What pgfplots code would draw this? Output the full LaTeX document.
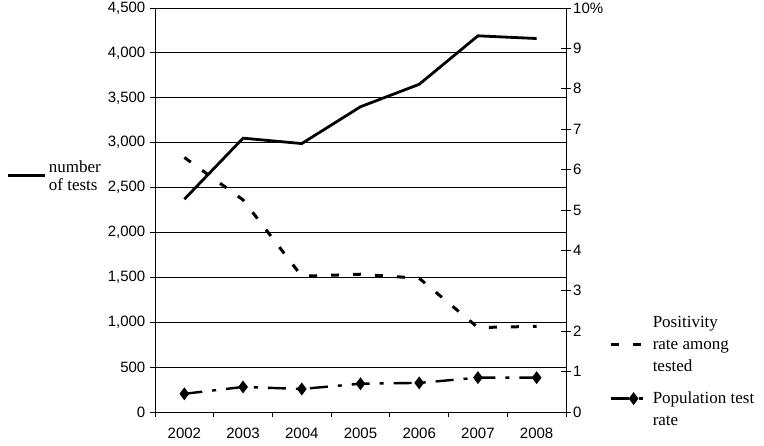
\documentclass[border=0pt]{standalone}
\usepackage{fontspec}
\setmainfont{Liberation Sans}
\newfontfamily\lserif{Liberation Serif}
\usepackage{pgfplots}
\pgfplotsset{compat=1.18}
\pgfplotsset{
  lgA/.style={legend image code/.code={\draw[##1] (0pt,8pt) -- (37pt,8pt);}},
  lgB/.style={legend image code/.code={\draw[##1] (0pt,0pt) -- (30pt,0pt);}},
  lgC/.style={legend image code/.code={\draw[mark repeat=2, mark phase=2, ##1] plot coordinates {(0pt,11pt) (23pt,11pt) (32pt,11pt)};}},
}
\newcommand\lst{\rule[-6pt]{0pt}{22pt}}
\begin{document}
\begin{tikzpicture}
\path[use as bounding box] (-155pt,-34pt) rectangle (609pt,412pt);
\begin{axis}[
  at={(0pt,0pt)}, anchor=south west,
  scale only axis, width=411pt, height=404pt,
  xmin=-0.5, xmax=6.5, ymin=0, ymax=4500,
  xtick={0,1,2,3,4,5,6},
  xticklabels={2002,2003,2004,2005,2006,2007,2008},
  minor xtick={-0.5,0.5,1.5,2.5,3.5,4.5,5.5,6.5},
  ytick={0,500,...,4500},
  scaled y ticks=false,
  /pgf/number format/.cd, 1000 sep={,}, assume math mode=true, /pgfplots/.cd,
  ymajorgrids, grid style={black, line width=0.8pt},
  axis line style={line width=0.8pt},
  tick align=outside, xtick pos=left, ytick pos=left,
  major tick length=5pt, minor tick length=5pt,
  tick style={black, line width=0.8pt},
  major x tick style={draw=none},
  ticklabel style={font=\fontsize{15}{18}\selectfont},
  yticklabel style={inner sep=0pt, xshift=-4.5pt},
  xticklabel style={inner sep=0pt, anchor=north, yshift=-11pt},
  legend style={draw=none, fill=none, at={(-0.370,0.6386)}, anchor=north west,
    font=\lserif\fontsize{17}{20}\selectfont, nodes={inner sep=0pt},
    row sep=0pt, column sep=3pt},
  legend cell align=left,
]
\addlegendimage{empty legend}
\addlegendentry{\lst number}
\addplot[black, line width=2.8pt, mark=none, lgA]
  coordinates {(0,2370) (1,3050) (2,2990) (3,3400) (4,3650) (5,4190) (6,4160)};
\addlegendentry{\lst of tests}
\end{axis}
\begin{axis}[
  at={(0pt,0pt)}, anchor=south west,
  scale only axis, width=411pt, height=404pt,
  xmin=-0.5, xmax=6.5, ymin=0, ymax=10,
  hide x axis, axis y line*=right,
  axis line style={line width=0.8pt},
  ytick={0,1,2,3,4,5,6,7,8,9,10},
  yticklabels={0,1,2,3,4,5,6,7,8,9,10\%},
  ytick align=center, major tick length=10pt,
  tick style={black, line width=0.8pt},
  ticklabel style={font=\fontsize{15}{18}\selectfont},
  yticklabel style={inner sep=0pt, xshift=2pt},
  legend style={draw=none, fill=none, at={(1.097,0.2426)}, anchor=north west,
    font=\lserif\fontsize{17}{22}\selectfont, nodes={inner sep=0pt, align=left},
    row sep=19pt, column sep=9pt},
  legend cell align=left,
]
\addplot[black, line width=3pt, mark=none, dash pattern=on 8pt off 14pt, lgB]
  coordinates {(0,6.3) (1,5.25) (2,3.36) (3,3.41) (4,3.31) (5,2.09) (6,2.12)};
\addlegendentry{Positivity\\rate among\\tested}
\addplot[black, line width=2.4pt, dash pattern=on 18pt off 10pt on 4pt off 10pt,
  mark=diamond*, mark size=4.5pt, mark options={solid, fill=black}, lgC]
  coordinates {(0,0.45) (1,0.62) (2,0.57) (3,0.70) (4,0.72) (5,0.85) (6,0.85)};
\addlegendentry{Population test\\rate}
\end{axis}
\end{tikzpicture}
\end{document}
